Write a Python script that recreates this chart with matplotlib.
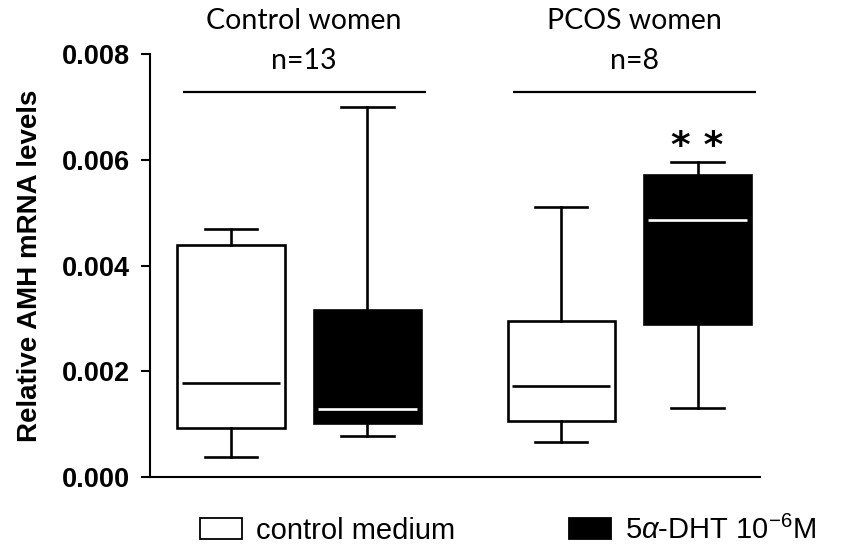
import matplotlib
matplotlib.use("Agg")
import matplotlib.pyplot as plt
from matplotlib.patches import Patch

plt.rcParams['mathtext.fontset'] = 'custom'
plt.rcParams['mathtext.rm'] = 'Liberation Sans'
plt.rcParams['mathtext.it'] = 'Liberation Sans:italic'
plt.rcParams['mathtext.bf'] = 'Liberation Sans:bold'
plt.rcParams['mathtext.sf'] = 'Liberation Sans'

# Groups and treatments
groups = ["Control women", "PCOS women"]
group_n = ["n=13", "n=8"]
treatments = ["control medium", "5$\\alpha$-DHT 10$^{\\mathrm{-6}}$M"]

# Box statistics, order: control/medium, control/DHT, PCOS/medium, PCOS/DHT
whisker_low = [0.00038, 0.00078, 0.00066, 0.00130]
q1 = [0.00093, 0.00103, 0.00105, 0.00289]
median = [0.00178, 0.00128, 0.00172, 0.00486]
q3 = [0.00439, 0.00315, 0.00295, 0.00571]
whisker_high = [0.00469, 0.00700, 0.00510, 0.00595]
significance = ["", "", "", "**"]

yticks = [0.000, 0.002, 0.004, 0.006, 0.008]

positions = [1.0, 2.0, 3.418, 4.418]
box_width = 0.784
face = ["white", "black", "white", "black"]
median_color = ["black", "white", "black", "white"]

fig = plt.figure(figsize=(8.57, 5.48), dpi=100)
ax = fig.add_axes([150 / 857, 71 / 548, 610 / 857, 423 / 548])

stats = []
for i in range(4):
    stats.append(dict(med=median[i], q1=q1[i], q3=q3[i],
                      whislo=whisker_low[i], whishi=whisker_high[i], fliers=[]))

lw = 1.9
bp = ax.bxp(stats, positions=positions, widths=box_width, patch_artist=True,
            showfliers=False, capwidths=box_width * 0.49,
            boxprops=dict(linewidth=lw, edgecolor="black"),
            whiskerprops=dict(linewidth=lw, color="black"),
            capprops=dict(linewidth=lw, color="black"),
            medianprops=dict(linewidth=0, alpha=0))
for patch, fc in zip(bp["boxes"], face):
    patch.set_facecolor(fc)
    patch.set_joinstyle("miter")

# Median bars drawn slightly inset from the box edges
for x, m, c in zip(positions, median, median_color):
    ax.hlines(m, x - box_width * 0.46, x + box_width * 0.46, colors=c, linewidth=lw, zorder=4)

# Significance marks just above the upper whisker cap
for x, top, s in zip(positions, whisker_high, significance):
    if s:
        ax.text(x, top + 0.00030, "* *", ha="center", va="center",
                fontsize=27, fontweight="bold", family="DejaVu Sans")

# Group bars and headers
line_y = 0.00729
for gi, (name, n) in enumerate(zip(groups, group_n)):
    x0 = positions[2 * gi] - 0.355
    x1 = positions[2 * gi + 1] + 0.425
    ax.plot([x0, x1], [line_y, line_y], color="black", linewidth=1.6,
            solid_capstyle="butt", clip_on=False)
    xc = (x0 + x1) / 2
    ax.text(xc, 0.00787, n, ha="center", va="center", fontsize=20.5, family="Lato")
    ax.text(xc, 0.00862, name, ha="center", va="center", fontsize=20.5, family="Lato")

ax.set_xlim(0.4066, 4.8755)
ax.set_ylim(0, 0.008)
ax.set_yticks(yticks)
ax.set_yticklabels([f"{v:.3f}" for v in yticks], fontsize=19.5, fontweight="bold",
                   family="Liberation Sans")
ax.set_xticks([])
ax.tick_params(axis="y", direction="out", length=6.5, width=1.5, pad=8)
for side in ("top", "right"):
    ax.spines[side].set_visible(False)
for side in ("left", "bottom"):
    ax.spines[side].set_linewidth(1.5)
ax.set_ylabel("Relative AMH mRNA levels", fontsize=20, fontweight="bold",
              family="Liberation Sans")
ax.yaxis.set_label_coords(-0.175, 0.5)

handles = [Patch(facecolor=fc, edgecolor="black", linewidth=1.3) for fc in ("white", "black")]
fig.legend(handles, treatments, loc="center left", bbox_to_anchor=(200 / 857, 18 / 548),
           ncol=2, frameon=False, prop=dict(family="Liberation Sans", size=21),
           borderpad=0, borderaxespad=0,
           handlelength=1.44, handleheight=0.75, handletextpad=0.48, columnspacing=3.9)

fig.savefig("out.png", dpi=100)
